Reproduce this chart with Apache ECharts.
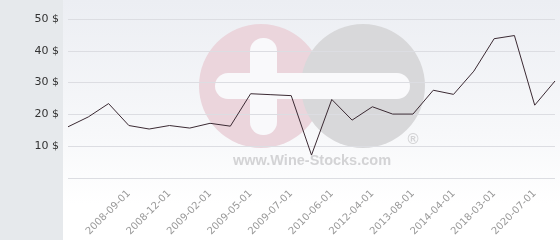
<!DOCTYPE html>
<html><head><meta charset="utf-8">
<script src="https://cdn.jsdelivr.net/npm/echarts@6/dist/echarts.min.js"></script>
<style>html,body{margin:0;padding:0;background:#fff}#c{width:560px;height:240px}</style>
</head><body><div id="c"></div>
<script>
const categories = ['', '', '', '2008-09-01', '', '2008-12-01', '', '2009-02-01', '', '2009-05-01', '', '2009-07-01', '', '2010-06-01', '', '2012-04-01', '', '2013-08-01', '', '2014-04-01', '', '2018-03-01', '', '2020-07-01', ''];
const prices = [16.1, 19.2, 23.4, 16.5, 15.4, 16.5, 15.7, 17.2, 16.3, 26.5, 26.2, 25.9, 7.2, 24.7, 18.2, 22.4, 20.1, 20.1, 27.6, 26.3, 33.6, 43.8, 44.8, 22.9, 30.5];
const yTicks = [0, 10, 20, 30, 40, 50];
const currency = '$';

const chart = echarts.init(document.getElementById('c'), null, {renderer: 'canvas'});
chart.setOption({
  animation: false,
  graphic: [
    {type: 'rect', z: -20, silent: true, shape: {x: 0, y: 0, width: 63, height: 240}, style: {fill: '#e6e9ec'}},
    {type: 'rect', z: -20, silent: true, shape: {x: 63, y: 0, width: 497, height: 240},
      style: {fill: new echarts.graphic.LinearGradient(0, 0, 0, 1, [
        {offset: 0, color: '#eceef3'}, {offset: 0.55, color: '#f7f8fa'}, {offset: 0.85, color: '#ffffff'}, {offset: 1, color: '#ffffff'}])}},
    {type: 'circle', z: -10, silent: true, shape: {cx: 261, cy: 86, r: 62}, style: {fill: '#ebd5dc'}},
    {type: 'circle', z: -10, silent: true, shape: {cx: 363, cy: 86, r: 62}, style: {fill: '#d8d8da'}},
    {type: 'rect', z: -9, silent: true, shape: {x: 250, y: 38, width: 27, height: 97, r: 13}, style: {fill: '#f9f9fb'}},
    {type: 'rect', z: -9, silent: true, shape: {x: 215, y: 73, width: 195, height: 26, r: 13}, style: {fill: '#f9f9fb'}},
    {type: 'text', z: -9, silent: true, x: 312, y: 161, style: {text: 'www.Wine-Stocks.com', fill: '#d3d3d5', font: 'bold 14.5px "Liberation Sans", Arial, sans-serif', align: 'center', verticalAlign: 'middle'}},
    {type: 'text', z: -9, silent: true, x: 413, y: 140, style: {text: '®', fill: '#d3d3d5', font: 'bold 15px "Liberation Sans", Arial, sans-serif', align: 'center', verticalAlign: 'middle'}}
  ],
  grid: {left: 68, right: 5, top: 19, bottom: 62, containLabel: false},
  xAxis: {
    type: 'category', data: categories, boundaryGap: false,
    axisLine: {show: false}, axisTick: {show: false},
    axisLabel: {rotate: 45, interval: (i) => categories[i] !== '', color: '#999999', fontSize: 10, fontFamily: 'DejaVu Sans', margin: 14}
  },
  yAxis: {
    type: 'value', min: yTicks[0], max: yTicks[yTicks.length - 1], interval: 10,
    axisLine: {show: false}, axisTick: {show: false},
    splitLine: {lineStyle: {color: '#dcdde2', width: 1}},
    axisLabel: {color: '#333333', fontSize: 11, fontFamily: 'DejaVu Sans', margin: 9, formatter: (v) => v === 0 ? '' : v + ' ' + currency}
  },
  series: [{
    type: 'line', data: prices, symbol: 'none', smooth: false,
    lineStyle: {color: '#3b2a33', width: 1}
  }]
});
</script></body></html>
